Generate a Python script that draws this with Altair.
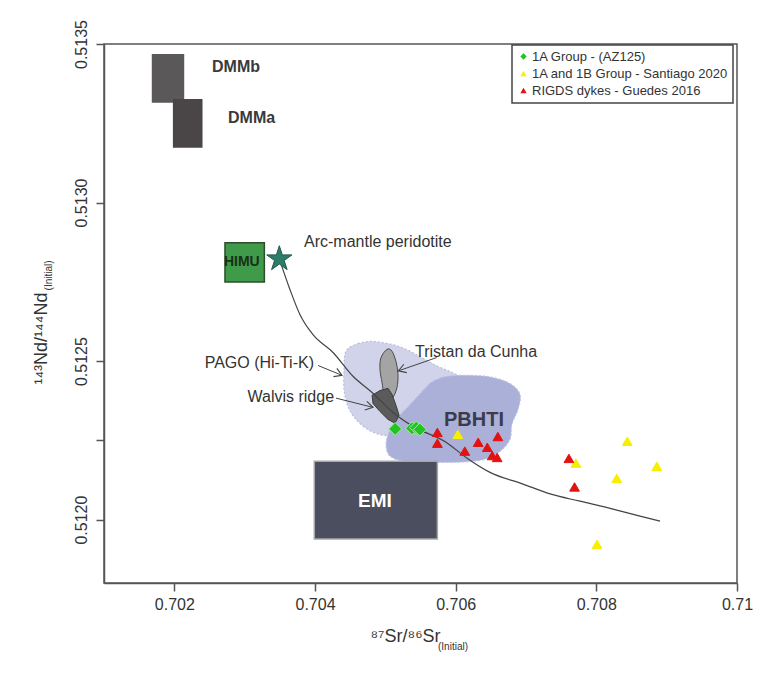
import altair as alt
import pandas as pd

FONT = "Liberation Sans"

# ---------------- axes ----------------
x_domain = [0.701, 0.710]
y_domain = [0.5118, 0.5135]
x_ticks = [0.702, 0.704, 0.706, 0.708, 0.710]
y_ticks = [0.5120, 0.51225, 0.5125, 0.5130, 0.5135]

# ---------------- samples ----------------
groups = ["1A Group - (AZ125)", "1A and 1B Group - Santiago 2020", "RIGDS dykes  - Guedes 2016"]
az_sr = [0.70514, 0.70538, 0.70544, 0.70549]
az_nd = [0.512286, 0.512288, 0.512290, 0.512284]
san_sr = [0.70603, 0.70771, 0.70844, 0.70886, 0.70829, 0.70801]
san_nd = [0.512269, 0.512178, 0.512247, 0.512168, 0.512130, 0.511922]
rig_sr = [0.70574, 0.70574, 0.70613, 0.70632, 0.70645, 0.70660, 0.70652, 0.70659, 0.70761, 0.70769]
rig_nd = [0.512275, 0.512241, 0.512216, 0.512244, 0.512228, 0.512262, 0.512202, 0.512196, 0.512193, 0.512103]

# ---------------- mantle reservoirs (boxes) ----------------
box_names = ["DMMb", "DMMa", "HIMU", "EMI"]
box_sr0 = [0.70169, 0.70199, 0.70272, 0.70399]
box_sr1 = [0.70213, 0.70239, 0.70328, 0.70574]
box_nd0 = [0.513317, 0.513175, 0.512749, 0.511939]
box_nd1 = [0.513466, 0.513324, 0.512873, 0.512184]

# ---------------- arc-mantle peridotite + mixing curve ----------------
star_sr = [0.703493]
star_nd = [0.512822]
curve_sr = [0.703493, 0.703645, 0.703787, 0.703972, 0.704256, 0.704540, 0.704811, 0.705109, 0.705394,
            0.705863, 0.706147, 0.706488, 0.706958, 0.707342, 0.707768, 0.708237, 0.708621, 0.708906]
curve_nd = [0.512822, 0.512725, 0.512646, 0.512583, 0.512527, 0.512452, 0.512401, 0.512338, 0.512294,
            0.512244, 0.512196, 0.512149, 0.512112, 0.512081, 0.512058, 0.512033, 0.512011, 0.511995]

# ---------------- fields ----------------
pago_sr = [0.704441, 0.704612, 0.704811, 0.705038, 0.705266, 0.705493, 0.705721, 0.705948, 0.706133, 0.706204,
           0.706062, 0.705778, 0.705493, 0.705209, 0.704967, 0.704754, 0.704583, 0.704469, 0.704413, 0.704413]
pago_nd = [0.512531, 0.512555, 0.512562, 0.512555, 0.512540, 0.512514, 0.512486, 0.512464, 0.512442, 0.512417,
           0.512386, 0.512347, 0.512301, 0.512269, 0.512266, 0.512284, 0.512316, 0.512357, 0.512411, 0.512474]
pbhti_sr = [0.705010, 0.705067, 0.705180, 0.705351, 0.705522, 0.705664, 0.705877, 0.706204, 0.706517, 0.706773,
            0.706915, 0.706887, 0.706801, 0.706773, 0.706631, 0.706417, 0.706062, 0.705635, 0.705280, 0.705067]
pbhti_nd = [0.512238, 0.512284, 0.512323, 0.512363, 0.512404, 0.512435, 0.512452, 0.512455, 0.512449, 0.512429,
            0.512395, 0.512347, 0.512301, 0.512253, 0.512215, 0.512190, 0.512181, 0.512181, 0.512184, 0.512200]
tristan_sr = [0.705024, 0.705095, 0.705152, 0.705180, 0.705166, 0.705109, 0.705038, 0.704981, 0.704953, 0.704924, 0.704939]
tristan_nd = [0.512537, 0.512531, 0.512498, 0.512458, 0.512417, 0.512386, 0.512380, 0.512398, 0.512432, 0.512474, 0.512511]
walvis_sr = [0.704811, 0.704924, 0.705038, 0.705095, 0.705152, 0.705195, 0.705138, 0.705038, 0.704924, 0.704825]
walvis_nd = [0.512392, 0.512407, 0.512414, 0.512395, 0.512360, 0.512329, 0.512304, 0.512316, 0.512341, 0.512366]

# ---------------- annotations ----------------
left_labels = ["Arc-mantle peridotite", "Tristan da Cunha"]
left_sr = [0.703844, 0.705422]
left_nd = [0.512876, 0.512527]
right_labels = ["PAGO (Hi-Ti-K)", "Walvis ridge"]
right_sr = [0.703986, 0.704271]
right_nd = [0.512495, 0.512386]
dmm_labels = ["DMMb", "DMMa"]
dmm_sr = [0.702536, 0.702763]
dmm_nd = [0.513428, 0.513267]
himu_label = ["HIMU"]
himu_sr = [0.702960]
himu_nd = [0.512811]
emi_label = ["EMI"]
emi_sr = [0.704853]
emi_nd = [0.512058]
pbhti_label = ["PBHTI"]
pbhti_lsr = [0.706261]
pbhti_lnd = [0.512314]
# arrows: start -> tip
arrow_sr0 = [0.705731, 0.704043, 0.704299]
arrow_nd0 = [0.512511, 0.512486, 0.512383]
arrow_sr1 = [0.705185, 0.704384, 0.704825]
arrow_nd1 = [0.512469, 0.512455, 0.512354]
arrow_angle = [160.8, 22.6, 13.7]
# axis title subscripts
sub_x_sr = [0.705962]
sub_x_nd = [0.511598]
sub_y_sr = [0.700218]
sub_y_nd = [0.512770]

# ---------------- styles ----------------
box_fill = {"DMMb": "#5a5859", "DMMa": "#4a4648", "HIMU": "#3f9b4a", "EMI": "#4a4e5e"}
box_stroke = {"DMMb": "#5a5859", "DMMa": "#4a4648", "HIMU": "#2d4d2d", "EMI": "#a8a8a8"}
group_colors = ["#22c322", "#f6ef00", "#e21212"]
group_shapes = ["diamond", "triangle-up", "triangle-up"]
group_size = {groups[0]: 170, groups[1]: 95, groups[2]: 95}
group_stroke = {groups[0]: "#a6eca6", groups[1]: "#f6ef00", groups[2]: "#e21212"}
STAR = ("M0,-1L0.2245,-0.309L0.951,-0.309L0.363,0.118L0.588,0.809L0,0.382"
        "L-0.588,0.809L-0.363,0.118L-0.951,-0.309L-0.2245,-0.309Z")
HEAD = "M-1,-0.6L0,0L-1,0.6"

# ---------------- scales / encodings ----------------
xs = alt.Scale(domain=x_domain, nice=False, zero=False)
ys = alt.Scale(domain=y_domain, nice=False, zero=False)
xaxis = alt.Axis(values=x_ticks, format="~g", grid=False, labelFont=FONT, labelFontSize=16,
                 labelColor="#333", labelFlush=False, labelOverlap=False, labelPadding=5,
                 tickSize=8, tickColor="#555", tickWidth=1.5, domainColor="#555", domainWidth=1.5,
                 title="⁸⁷Sr/⁸⁶Sr", titleFont=FONT, titleFontSize=18, titleFontWeight="normal",
                 titleColor="#333", titleX=301, titleY=53, titleAlign="center", titleBaseline="middle")
yaxis = alt.Axis(values=y_ticks, grid=False, labelFont=FONT, labelFontSize=16, labelColor="#333",
                 labelExpr="(datum.value > 0.51224 && datum.value < 0.51226) ? '' : format(datum.value, '.4f')",
                 labelAngle=270, labelAlign="center", labelBaseline="bottom", labelFlush=False,
                 labelOverlap=False, labelPadding=7,
                 tickSize=8, tickColor="#555", tickWidth=1.5, domainColor="#555", domainWidth=1.5,
                 title="¹⁴³Nd/¹⁴⁴Nd", titleFont=FONT, titleFontSize=18, titleFontWeight="normal",
                 titleColor="#333", titleAngle=270, titleX=-63, titleY=294, titleAlign="center",
                 titleBaseline="middle")
X = alt.X("sr:Q", scale=xs, axis=xaxis)
Y = alt.Y("nd:Q", scale=ys, axis=yaxis)


def poly_layer(sr, nd, fill, stroke, width=1.0, dash=None, interp="cardinal-closed"):
    df = pd.DataFrame({"sr": sr, "nd": nd, "i": list(range(len(sr)))})
    kw = dict(fill=fill, stroke=stroke, strokeWidth=width, interpolate=interp, opacity=1)
    if dash:
        kw["strokeDash"] = dash
    return alt.Chart(df).mark_line(**kw).encode(x=X, y=Y, order="i:Q")


def text_layer(labels, sr, nd, **kw):
    df = pd.DataFrame({"label": labels, "sr": sr, "nd": nd})
    return alt.Chart(df).mark_text(font=FONT, **kw).encode(x=X, y=Y, text="label:N")


pago = poly_layer(pago_sr, pago_nd, "#d0d3ea", "#b9bddc", 1.2, [2, 2])
pbhti = poly_layer(pbhti_sr, pbhti_nd, "#aab0d8", "#c3c7e4", 1.2, [2, 2])
tristan = poly_layer(tristan_sr, tristan_nd, "#a4a4a4", "#4a4a4a", 1.0)
walvis = poly_layer(walvis_sr, walvis_nd, "#5b5b5b", "#3c3c3c", 1.0, interp="linear-closed")

curve_df = pd.DataFrame({"sr": curve_sr, "nd": curve_nd, "i": list(range(len(curve_sr)))})
curve = alt.Chart(curve_df).mark_line(color="#444", strokeWidth=1.2, interpolate="monotone").encode(
    x=X, y=Y, order="i:Q")

box_df = pd.DataFrame({"name": box_names, "sr": box_sr0, "sr1": box_sr1, "nd": box_nd0, "nd1": box_nd1})
box_df["fill"] = box_df["name"].map(box_fill)
box_df["stroke"] = box_df["name"].map(box_stroke)
boxes = alt.Chart(box_df).mark_rect(strokeWidth=1.5).encode(
    x=X, x2=alt.X2("sr1"), y=Y, y2=alt.Y2("nd1"),
    fill=alt.Fill("fill:N", scale=None), stroke=alt.Stroke("stroke:N", scale=None))

star = alt.Chart(pd.DataFrame({"sr": star_sr, "nd": star_nd})).mark_point(
    shape=STAR, filled=True, size=700, color="#2e7b6b", stroke="#1d5a4c", strokeWidth=1, opacity=1
).encode(x=X, y=Y)

arrow_df = pd.DataFrame({"sr": arrow_sr0, "nd": arrow_nd0, "sr1": arrow_sr1, "nd1": arrow_nd1})
arrows = alt.Chart(arrow_df).mark_rule(color="#444", strokeWidth=1).encode(
    x=X, x2=alt.X2("sr1"), y=Y, y2=alt.Y2("nd1"))
head_df = pd.DataFrame({"sr": arrow_sr1, "nd": arrow_nd1, "ang": arrow_angle})
heads = alt.Chart(head_df).mark_point(shape=HEAD, filled=False, size=220, color="#444",
                                      strokeWidth=1.1, opacity=1).encode(
    x=X, y=Y, angle=alt.Angle("ang:Q", scale=None))

pts_df = pd.concat([
    pd.DataFrame({"sr": az_sr, "nd": az_nd, "group": groups[0]}),
    pd.DataFrame({"sr": san_sr, "nd": san_nd, "group": groups[1]}),
    pd.DataFrame({"sr": rig_sr, "nd": rig_nd, "group": groups[2]}),
], ignore_index=True)
pts_df["sz"] = pts_df["group"].map(group_size)
pts_df["edge"] = pts_df["group"].map(group_stroke)
legend = alt.Legend(title=None, orient="none", legendX=408, legendY=1, padding=5, rowPadding=3,
                    labelFont=FONT, labelFontSize=13, labelColor="#333", symbolSize=40,
                    strokeColor="#444", fillColor="#ffffff", labelLimit=300, labelOffset=2,
                    symbolStrokeWidth=0)
points = alt.Chart(pts_df).mark_point(filled=True, opacity=1, strokeWidth=1).encode(
    x=X, y=Y,
    color=alt.Color("group:N", scale=alt.Scale(domain=groups, range=group_colors), legend=legend),
    shape=alt.Shape("group:N", scale=alt.Scale(domain=groups, range=group_shapes), legend=legend),
    size=alt.Size("sz:Q", scale=None),
    stroke=alt.Stroke("edge:N", scale=None),
)

t_left = text_layer(left_labels, left_sr, left_nd, align="left", baseline="middle", fontSize=16, color="#333")
t_right = text_layer(right_labels, right_sr, right_nd, align="right", baseline="middle", fontSize=16, color="#333")
t_dmm = text_layer(dmm_labels, dmm_sr, dmm_nd, align="left", baseline="middle", fontSize=16,
                   fontWeight="bold", color="#3a3a3a")
t_himu = text_layer(himu_label, himu_sr, himu_nd, align="center", baseline="middle", fontSize=14,
                    fontWeight="bold", color="#183018")
t_emi = text_layer(emi_label, emi_sr, emi_nd, align="center", baseline="middle", fontSize=19,
                   fontWeight="bold", color="#ffffff")
t_pbhti = text_layer(pbhti_label, pbhti_lsr, pbhti_lnd, align="center", baseline="middle", fontSize=20,
                     fontWeight="bold", color="#3b3b4b")
t_subx = text_layer(["(Initial)"], sub_x_sr, sub_x_nd, align="center", baseline="middle", fontSize=10,
                    color="#333")
t_suby = text_layer(["(Initial)"], sub_y_sr, sub_y_nd, align="center", baseline="middle", fontSize=10,
                    color="#333", angle=270)

chart = alt.layer(
    pago, pbhti, tristan, walvis, curve, boxes, arrows, heads, star, points,
    t_left, t_right, t_dmm, t_himu, t_emi, t_pbhti, t_subx, t_suby
).properties(
    width=633, height=539,
    padding={"left": 96, "top": 36, "right": 18, "bottom": 90},
    autosize=alt.AutoSizeParams(type="none"),
    background="white",
).configure_view(stroke="#555", strokeWidth=1.5).configure_legend(strokeWidth=1.5)

chart.save("out.html", embed_options={"renderer": "svg", "actions": False})
